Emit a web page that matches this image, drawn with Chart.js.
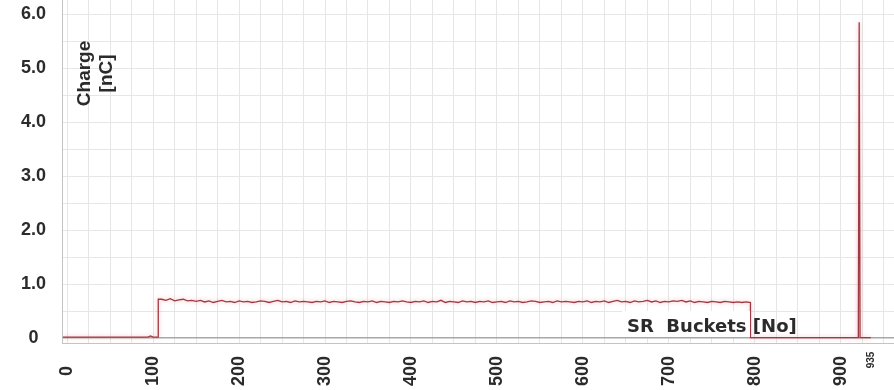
<!DOCTYPE html>
<html>
<head>
<meta charset="utf-8">
<script src="https://cdn.jsdelivr.net/npm/chart.js@4.4.1/dist/chart.umd.min.js"></script>
<style>
  html, body { margin: 0; padding: 0; background: #fff; }
  #wrap { width: 894px; height: 390px; }
</style>
</head>
<body>
<div id="wrap"><canvas id="chargeChart"></canvas></div>
<script>
// Bucket numbers and charge [nC]
const xLabelValues = [0, 100, 200, 300, 400, 500, 600, 700, 800, 900, 935];
const yLabelValues = [0, 1, 2, 3, 4, 5, 6];

// empty buckets before the train, small bump near 97
const leadBuckets = [-5, 94, 97, 100, 106];
const leadCharge  = [0.02, 0.02, 0.04, 0.02, 0.02];

// filled buckets 110 .. 795, one reading every 5 buckets
const trainStart = 110;
const trainStep = 5;
const trainCharge = [
  0.72, 0.70, 0.73, 0.69, 0.71, 0.72, 0.69, 0.70, 0.68, 0.70,
  0.67, 0.69, 0.66, 0.68, 0.70, 0.67, 0.68, 0.66, 0.69, 0.67,
  0.68, 0.66, 0.67, 0.69, 0.68, 0.66, 0.68, 0.70, 0.67, 0.68,
  0.66, 0.69, 0.67, 0.68, 0.67, 0.66, 0.68, 0.67, 0.69, 0.66,
  0.68, 0.67, 0.66, 0.68, 0.69, 0.67, 0.66, 0.68, 0.67, 0.69,
  0.66, 0.68, 0.67, 0.66, 0.68, 0.67, 0.69, 0.67, 0.66, 0.68,
  0.67, 0.69, 0.66, 0.68, 0.67, 0.70, 0.66, 0.68, 0.67, 0.66,
  0.69, 0.67, 0.68, 0.66, 0.68, 0.67, 0.69, 0.66, 0.67, 0.68,
  0.66, 0.69, 0.67, 0.68, 0.66, 0.67, 0.69, 0.68, 0.66, 0.67,
  0.68, 0.66, 0.69, 0.67, 0.68, 0.67, 0.66, 0.68, 0.67, 0.69,
  0.66, 0.68, 0.67, 0.69, 0.66, 0.68, 0.70, 0.67, 0.68, 0.66,
  0.69, 0.67, 0.68, 0.70, 0.67, 0.69, 0.66, 0.68, 0.67, 0.69,
  0.68, 0.70, 0.67, 0.69, 0.66, 0.68, 0.67, 0.66, 0.68, 0.67,
  0.66, 0.68, 0.67, 0.66, 0.67, 0.66, 0.67, 0.66
];

// gap after the train, single bucket near 921, end at 935
const tailBuckets = [795, 920.5, 921.5, 922.5, 935];
const tailCharge  = [0.01, 0.01, 5.85, 0.01, 0.01];

const points = [];
leadBuckets.forEach((b, i) => points.push({ x: b, y: leadCharge[i] }));
points.push({ x: 106, y: trainCharge[0] });
trainCharge.forEach((c, i) => points.push({ x: trainStart + i * trainStep, y: c }));
tailBuckets.forEach((b, i) => points.push({ x: b, y: tailCharge[i] }));

const textColor = '#2b2b2b';

// draws the rotated x labels, the y title and the x title
const labelPlugin = {
  id: 'labels',
  afterDraw(chart) {
    const ctx = chart.ctx;
    const xs = chart.scales.x;
    const ys = chart.scales.y;
    ctx.save();
    ctx.fillStyle = textColor;
    ctx.textAlign = 'center';
    ctx.textBaseline = 'middle';

    xLabelValues.forEach(v => {
      const px = xs.getPixelForValue(v);
      ctx.save();
      ctx.translate(px, 371);
      ctx.rotate(-Math.PI / 2);
      if (v === 935) {
        ctx.font = 'bold 10px "Liberation Sans", Arial, sans-serif';
        ctx.translate(11, 0);
      } else {
        ctx.font = 'bold 18px "Liberation Sans", Arial, sans-serif';
      }
      ctx.fillText(String(v), 0, 0);
      ctx.restore();
    });

    // y title inside the plot
    ctx.font = 'bold 19px "Liberation Sans", Arial, sans-serif';
    ctx.save();
    ctx.translate(xs.getPixelForValue(21), ys.getPixelForValue(4.9));
    ctx.rotate(-Math.PI / 2);
    ctx.fillText('Charge', 0, 0);
    ctx.fillText('[nC]', 0, 22);
    ctx.restore();

    // x title with white box
    ctx.fillStyle = '#fff';
    ctx.fillRect(622, 311, 128, 26);
    ctx.fillStyle = textColor;
    ctx.textAlign = 'left';
    ctx.textBaseline = 'alphabetic';
    ctx.font = 'bold 18px "DejaVu Sans", sans-serif';
    ctx.fillText('SR  Buckets [No]', 627, 332);
    ctx.restore();
  },
  beforeDatasetDraw(chart) {
    chart.ctx.save();
    chart.ctx.shadowColor = 'rgba(240, 140, 150, 0.7)';
    chart.ctx.shadowBlur = 4;
  },
  afterDatasetDraw(chart) {
    chart.ctx.restore();
  }
};

const ctx = document.getElementById('chargeChart').getContext('2d');
new Chart(ctx, {
  type: 'line',
  data: {
    datasets: [{
      data: points,
      borderColor: '#9e3a43',
      borderWidth: 1.3,
      pointRadius: 0,
      tension: 0,
      fill: false
    }]
  },
  options: {
    responsive: true,
    maintainAspectRatio: false,
    animation: false,
    layout: { padding: 0 },
    plugins: {
      legend: { display: false },
      tooltip: { enabled: false }
    },
    scales: {
      x: {
        type: 'linear',
        min: -6,
        max: 962,
        afterBuildTicks(scale) {
          const t = [];
          for (let v = 0; v <= 950; v += 25) t.push({ value: v });
          scale.ticks = t;
        },
        afterFit(scale) {
          scale.height = 47;
          scale.paddingLeft = 0;
          scale.paddingRight = 0;
        },
        ticks: { display: false },
        grid: { color: '#e6e6e6', lineWidth: 1, drawTicks: false },
        border: { color: '#c4c4c4' }
      },
      y: {
        min: -0.09,
        max: 6.26,
        afterBuildTicks(scale) {
          const t = [];
          for (let v = 0; v <= 6; v += 0.5) t.push({ value: v });
          scale.ticks = t;
        },
        afterFit(scale) {
          scale.width = 62;
          scale.paddingTop = 0;
          scale.paddingBottom = 0;
        },
        ticks: {
          crossAlign: 'center',
          padding: 16,
          color: textColor,
          font: { family: '"Liberation Sans", Arial, sans-serif', weight: 'bold', size: 18 },
          callback(v) {
            if (!yLabelValues.includes(v)) return '';
            return v === 0 ? '0' : v.toFixed(1);
          }
        },
        grid: {
          drawTicks: false,
          color(c) { return c.tick && c.tick.value === 0 ? '#a8a8a8' : '#e6e6e6'; },
          lineWidth(c) { return c.tick && c.tick.value === 0 ? 1.5 : 1; }
        },
        border: { color: '#c4c4c4' }
      }
    }
  },
  plugins: [labelPlugin]
});
</script>
</body>
</html>
